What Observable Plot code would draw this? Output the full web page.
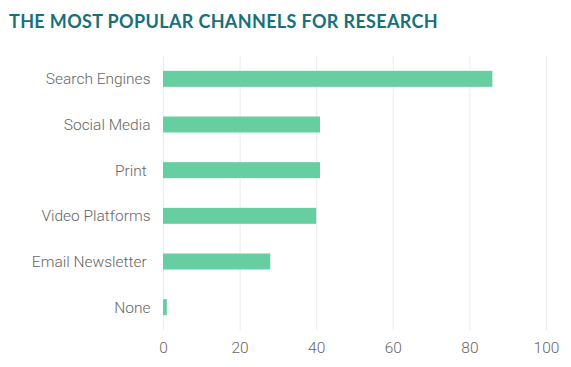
<!DOCTYPE html>
<html>
<head>
<meta charset="utf-8">
<script src="https://cdn.jsdelivr.net/npm/d3@7"></script>
<script src="https://cdn.jsdelivr.net/npm/@observablehq/plot@0.6"></script>
<style>
  html, body { margin: 0; padding: 0; background: #fff; }
  #title { height: 40px; box-sizing: border-box; padding: 12px 0 0 9px; font-family: Lato, "Open Sans", sans-serif; font-weight: 700; font-size: 18px; letter-spacing: 0.35px; color: #17707a; line-height: 18px; white-space: nowrap; }
  #chart svg { display: block; }
</style>
</head>
<body>
<div id="title">THE MOST POPULAR CHANNELS FOR RESEARCH</div>
<div id="chart"></div>
<script>
const channels = ["Search Engines", "Social Media", "Print\u00a0", "Video Platforms", "Email Newsletter\u00a0", "None"];
const shares = [86, 41, 41, 40, 28, 1];
const xTicks = [0, 20, 40, 60, 80, 100];

const data = channels.map((c, i) => ({channel: c, value: shares[i]}));

const chart = Plot.plot({
  width: 571,
  height: 327,
  marginTop: 16,
  marginBottom: 37,
  marginLeft: 163,
  marginRight: 25,
  style: {fontFamily: "Roboto, sans-serif", fontSize: "15.5px", fontWeight: 300, color: "#666", background: "#fff"},
  x: {domain: [0, 100], ticks: xTicks, tickSize: 0, tickPadding: 11, label: null},
  y: {domain: channels, padding: 0.65, paddingOuter: 0.325, round: false, tickSize: 0, tickPadding: 13, label: null},
  marks: [
    Plot.ruleX(xTicks, {stroke: "#ebebeb", strokeWidth: 1}),
    Plot.barX(data, {x: "value", y: "channel", fill: "#66cea0"})
  ]
});
document.getElementById("chart").appendChild(chart);
</script>
</body>
</html>
